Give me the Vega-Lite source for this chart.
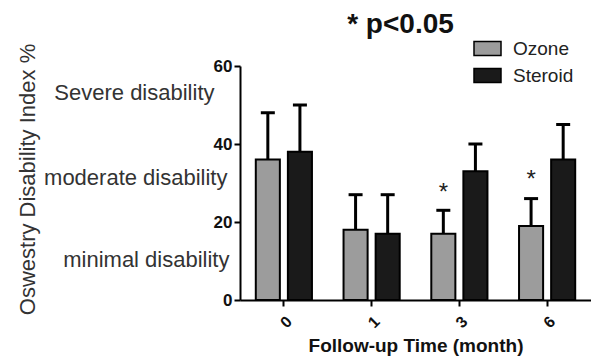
{
  "$schema": "https://vega.github.io/schema/vega-lite/v6.json",
  "autosize": "none",
  "width": 351,
  "height": 234,
  "padding": {"left": 240, "top": 66, "right": 0, "bottom": 58},
  "background": "white",
  "config": {
    "font": "Liberation Sans",
    "view": {"stroke": null}
  },
  "title": {
    "text": "* p<0.05",
    "fontSize": 28,
    "fontWeight": "bold",
    "color": "#111",
    "anchor": "middle",
    "dx": -15,
    "offset": -5
  },
  "datasets": {
    "bars": [
      {"month": "0", "group": "Ozone", "mean": 36, "upper": 48},
      {"month": "0", "group": "Steroid", "mean": 38, "upper": 50},
      {"month": "1", "group": "Ozone", "mean": 18, "upper": 27},
      {"month": "1", "group": "Steroid", "mean": 17, "upper": 27},
      {"month": "3", "group": "Ozone", "mean": 17, "upper": 23},
      {"month": "3", "group": "Steroid", "mean": 33, "upper": 40},
      {"month": "6", "group": "Ozone", "mean": 19, "upper": 26},
      {"month": "6", "group": "Steroid", "mean": 36, "upper": 45}
    ],
    "stars": [
      {"month": "3", "group": "Ozone", "pos": 28.5, "mark": "*"},
      {"month": "6", "group": "Ozone", "pos": 31.8, "mark": "*"}
    ]
  },
  "encoding": {
    "x": {
      "field": "month",
      "type": "nominal",
      "sort": ["0", "1", "3", "6"],
      "scale": {"paddingInner": 0.36, "paddingOuter": 0.18},
      "axis": {
        "title": "Follow-up Time (month)",
        "titleFontSize": 19,
        "titleFontWeight": "bold",
        "titleColor": "#111",
        "titlePadding": 6,
        "labelAngle": -45,
        "labelFontSize": 16,
        "labelFontWeight": "bold",
        "labelColor": "#111",
        "labelPadding": 7,
        "domainColor": "black",
        "domainWidth": 2,
        "tickColor": "black",
        "tickWidth": 2,
        "tickSize": 6
      }
    },
    "xOffset": {
      "field": "group",
      "type": "nominal",
      "sort": ["Ozone", "Steroid"],
      "scale": {"paddingInner": 0.25, "paddingOuter": 0}
    }
  },
  "layer": [
    {
      "data": {"name": "bars"},
      "mark": {"type": "bar", "stroke": "black", "strokeWidth": 2},
      "encoding": {
        "y": {
          "field": "mean",
          "type": "quantitative",
          "scale": {"domain": [0, 60], "nice": false},
          "axis": {
            "title": null,
            "values": [0, 20, 40, 60],
            "grid": false,
            "labelFontSize": 17,
            "labelFontWeight": "bold",
            "labelColor": "#111",
            "labelPadding": 2,
            "domainColor": "black",
            "domainWidth": 2,
            "tickColor": "black",
            "tickWidth": 2,
            "tickSize": 6
          }
        },
        "color": {
          "field": "group",
          "type": "nominal",
          "sort": ["Ozone", "Steroid"],
          "scale": {"domain": ["Ozone", "Steroid"], "range": ["#9c9c9c", "#1a1a1a"]},
          "legend": {
            "title": null,
            "orient": "none",
            "legendX": 233,
            "legendY": -32,
            "symbolType": "M-1,-0.52H1V0.52H-1Z",
            "symbolSize": 729,
            "symbolStrokeColor": "black",
            "symbolStrokeWidth": 1.5,
            "symbolOpacity": 1,
            "labelFontSize": 19,
            "labelColor": "#222",
            "labelOffset": 11,
            "rowPadding": 2
          }
        }
      }
    },
    {
      "data": {"name": "bars"},
      "mark": {"type": "rule", "strokeWidth": 3, "color": "black"},
      "encoding": {
        "y": {"field": "mean", "type": "quantitative", "axis": null},
        "y2": {"field": "upper"}
      }
    },
    {
      "data": {"name": "bars"},
      "mark": {"type": "tick", "thickness": 3, "size": 14, "color": "black", "opacity": 1},
      "encoding": {
        "y": {"field": "upper", "type": "quantitative", "axis": null}
      }
    },
    {
      "data": {"name": "stars"},
      "mark": {"type": "text", "fontSize": 24, "color": "#222", "baseline": "middle", "dy": 4},
      "encoding": {
        "text": {"field": "mark"},
        "y": {
          "field": "pos",
          "type": "quantitative",
          "axis": {
            "orient": "left",
            "title": "Oswestry Disability Index %",
            "titleFontSize": 22,
            "titleFontWeight": "normal",
            "titleColor": "#333",
            "titlePadding": 4,
            "titleY": 113,
            "values": [10.4, 31.4, 53.2],
            "labelExpr": "datum.value < 20 ? 'minimal disability' : datum.value < 40 ? 'moderate disability' : 'Severe disability'",
            "labelFontSize": 22,
            "labelColor": "#333",
            "labelPadding": {
              "condition": [
                {"test": "datum.value < 20", "value": -13},
                {"test": "datum.value < 40", "value": -11}
              ],
              "value": 2
            },
            "labelLimit": 400,
            "offset": 24,
            "domain": false,
            "ticks": false,
            "grid": false
          }
        }
      }
    }
  ],
  "resolve": {"axis": {"y": "independent"}}
}
